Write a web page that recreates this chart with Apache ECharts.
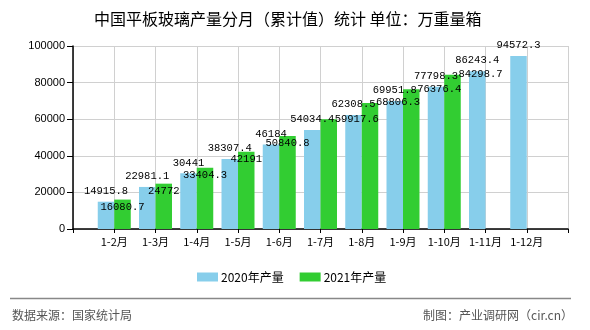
<!DOCTYPE html>
<html><head><meta charset="utf-8">
<script src="https://cdn.jsdelivr.net/npm/echarts@6/dist/echarts.min.js"></script>
<style>html,body{margin:0;padding:0;background:#fff;}#c{width:590px;height:330px;}</style>
</head><body><div id="c"></div>
<script>
var categories = ['', '1-2月', '1-3月', '1-4月', '1-5月', '1-6月', '1-7月', '1-8月', '1-9月', '1-10月', '1-11月', '1-12月', ''];
var seriesNames = ['2020年产量', '2021年产量'];
var values2020 = [null, 14915.8, 22981.1, 30441, 38307.4, 46184, 54034.4, 62308.5, 69951.8, 77798.3, 86243.4, 94572.3, null];
var values2021 = [null, 16080.7, 24772, 33404.3, 42191, 50840.8, 59917.6, 68806.3, 76376.4, 84298.7, null, null, null];
var yTicks = [0, 20000, 40000, 60000, 80000, 100000];
var titleText = '中国平板玻璃产量分月（累计值）统计 单位：万重量箱';
var sourceText = '数据来源：国家统计局';
var creditText = '制图：产业调研网（cir.cn）';

var chart = echarts.init(document.getElementById('c'), null, {renderer: 'canvas'});
var monoFont = 'Liberation Mono, monospace';
var labelSize = 10.5;

// 2021 labels: the source chart pushes the labels of the later bars to the right of their bar
var data2021 = values2021.map(function (v, i) {
  if (i >= 6 && v != null) {
    return {value: v, label: {offset: [28, -8]}};
  }
  return v;
});

chart.setOption({
  animation: false,
  backgroundColor: '#fff',
  title: {
    text: titleText, left: 89, top: 6,
    textStyle: {fontSize: 16, fontWeight: 'normal', color: '#000', fontFamily: 'Noto Sans CJK SC'}
  },
  legend: {
    data: seriesNames, top: 266, left: 192,
    itemWidth: 21, itemHeight: 9, itemGap: 16, icon: 'rect',
    textStyle: {fontSize: 12, color: '#000', fontFamily: 'Noto Sans CJK SC', padding: [0, 0, 0, -2]}
  },
  grid: {left: 73, right: 22, top: 46, bottom: 101, containLabel: false},
  xAxis: {
    type: 'category', data: categories, boundaryGap: false,
    axisLine: {lineStyle: {color: '#000', width: 1.5}},
    axisTick: {show: true, length: 4, lineStyle: {color: '#000'}},
    axisLabel: {interval: 0, fontSize: 11, color: '#000', margin: 7, fontFamily: 'Noto Sans CJK SC'},
    splitLine: {show: true, lineStyle: {color: '#d0d0d0'}}
  },
  yAxis: {
    type: 'value', min: yTicks[0], max: yTicks[yTicks.length - 1], interval: yTicks[1] - yTicks[0],
    axisLine: {show: true, lineStyle: {color: '#000', width: 1.5}},
    axisTick: {show: true, length: 6, lineStyle: {color: '#000'}},
    axisLabel: {fontSize: 11, color: '#000', margin: 8, fontFamily: 'Liberation Sans',
      formatter: function (v) { return String(v); }},
    splitLine: {show: true, lineStyle: {color: '#d0d0d0'}}
  },
  series: [
    {
      name: seriesNames[0], type: 'bar', data: values2020, barWidth: 16.5, barGap: '0%',
      itemStyle: {color: '#87CEEB'},
      label: {show: true, position: 'top', distance: 5, fontFamily: monoFont, fontSize: labelSize, color: '#000'}
    },
    {
      name: seriesNames[1], type: 'bar', data: data2021, barWidth: 16.5, barGap: '0%',
      itemStyle: {color: '#32CD32'},
      label: {show: true, position: 'insideTop', distance: 2, fontFamily: monoFont, fontSize: labelSize, color: '#000'}
    }
  ],
  graphic: [
    {type: 'line', shape: {x1: 10, y1: 298.5, x2: 571, y2: 298.5}, style: {stroke: '#888', lineWidth: 1.5}},
    {type: 'text', left: 12, top: 309, style: {text: sourceText, fontSize: 12, fill: '#555', fontFamily: 'Noto Sans CJK SC'}},
    {type: 'text', right: 17, top: 309, style: {text: creditText, fontSize: 12, fill: '#555', fontFamily: 'Noto Sans CJK SC'}}
  ]
});
</script></body></html>
